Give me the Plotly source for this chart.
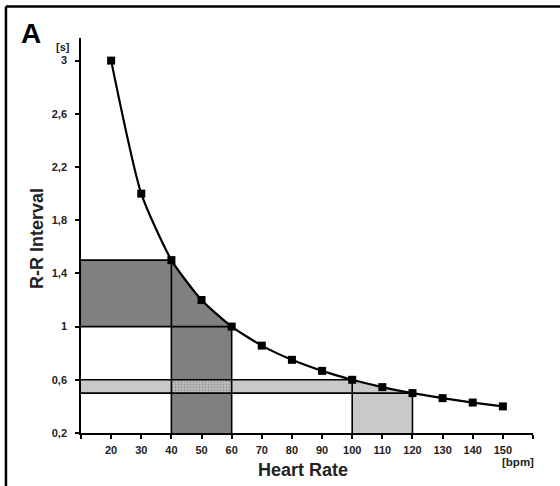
import plotly.graph_objects as go

# ---- data ----
heart_rate = [20, 30, 40, 50, 60, 70, 80, 90, 100, 110, 120, 130, 140, 150]
rr_interval = [3.0, 2.0, 1.5, 1.2, 1.0, 0.857, 0.75, 0.667, 0.6, 0.545, 0.5, 0.462, 0.429, 0.4]

x_ticks = [10, 20, 30, 40, 50, 60, 70, 80, 90, 100, 110, 120, 130, 140, 150, 160]
x_tick_labels = ["", "20", "30", "40", "50", "60", "70", "80", "90", "100", "110", "120", "130", "140", "150", ""]
y_ticks = [0.2, 0.6, 1.0, 1.4, 1.8, 2.2, 2.6, 3.0]
y_tick_labels = ["0,2", "0,6", "1", "1,4", "1,8", "2,2", "2,6", "3"]

x_min, x_max = 10, 160
y_min, y_max = 0.2, 3.17

brady_hr = [40, 60]      # heart-rate window (dark)
brady_rr = [1.0, 1.5]    # R-R window (dark)
tachy_hr = [100, 120]    # heart-rate window (light)
tachy_rr = [0.5, 0.6]    # R-R window (light)

DARK = "#808080"
LIGHT = "#c9c9c9"


def curve_segment(x0, x1):
    xs = [x for x in heart_rate if x0 <= x <= x1]
    ys = [rr_interval[heart_rate.index(x)] for x in xs]
    return xs, ys


fig = go.Figure()

# dark region: horizontal band + area under curve between 40 and 60
cx, cy = curve_segment(brady_hr[0], brady_hr[1])
dx = [x_min] + cx + [brady_hr[1], brady_hr[0], brady_hr[0], x_min]
dy = [brady_rr[1]] + cy + [y_min, y_min, brady_rr[0], brady_rr[0]]
fig.add_trace(go.Scatter(x=dx, y=dy, fill="toself", fillcolor=DARK, mode="none",
                         hoverinfo="skip", showlegend=False))

# light horizontal band
cx2, cy2 = curve_segment(tachy_hr[0], tachy_hr[1])
lx = [x_min] + cx2 + [x_min]
ly = [tachy_rr[1]] + cy2 + [tachy_rr[0]]
fig.add_trace(go.Scatter(x=lx, y=ly, fill="toself", fillcolor=LIGHT, mode="none",
                         hoverinfo="skip", showlegend=False))
# light vertical area under curve
vx = [tachy_hr[0]] + cx2 + [tachy_hr[1], tachy_hr[0]]
vy = [y_min] + cy2 + [y_min, y_min]
fig.add_trace(go.Scatter(x=vx, y=vy, fill="toself", fillcolor=LIGHT, mode="none",
                         hoverinfo="skip", showlegend=False))

# hatched overlap
hx = [brady_hr[0], brady_hr[1], brady_hr[1], brady_hr[0], brady_hr[0]]
hy = [tachy_rr[0], tachy_rr[0], tachy_rr[1], tachy_rr[1], tachy_rr[0]]
fig.add_trace(go.Scatter(x=hx, y=hy, fill="toself", fillcolor="#a8a8a8", mode="none",
                         fillpattern=dict(shape=".", fgcolor="#6e6e6e", bgcolor="#c4c4c4",
                                          size=3, solidity=0.45),
                         hoverinfo="skip", showlegend=False))

# reference lines
line_style = dict(color="black", width=1.6)
for hr, rr in [(brady_hr[0], brady_rr[1]), (brady_hr[1], brady_rr[0]),
               (tachy_hr[0], tachy_rr[1]), (tachy_hr[1], tachy_rr[0])]:
    fig.add_trace(go.Scatter(x=[x_min, hr, hr], y=[rr, rr, y_min], mode="lines",
                             line=line_style, hoverinfo="skip", showlegend=False))

# main curve
fig.add_trace(go.Scatter(x=heart_rate, y=rr_interval, mode="lines+markers",
                         line=dict(color="black", width=2.2, shape="spline", smoothing=0.6),
                         marker=dict(symbol="square", size=8, color="black"),
                         showlegend=False))

PL, PR, PT, PB = 81, 532.7, 37.5, 433.5
W, H = PR - PL, PB - PT


def px(x):
    return (x - PL) / W


def py(y):
    return (PB - y) / H


tick_font = dict(family="Liberation Sans, Arial, sans-serif", size=11, color="#222222")

fig.update_layout(
    width=560, height=486,
    margin=dict(l=PL, r=560 - PR, t=PT, b=486 - PB, pad=0),
    paper_bgcolor="white", plot_bgcolor="white",
    hovermode=False,
    xaxis=dict(range=[x_min, x_max], tickvals=x_ticks,
               ticktext=["<b>%s</b>" % t if t else "" for t in x_tick_labels],
               showline=True, linecolor="black", linewidth=1.6, ticks="outside",
               ticklen=4, tickwidth=1.6, tickcolor="black", showgrid=False, zeroline=False,
               tickfont=tick_font, ticklabelstandoff=2),
    yaxis=dict(range=[y_min, y_max], tickvals=y_ticks,
               ticktext=["<b>%s</b>" % t for t in y_tick_labels],
               showline=True, linecolor="black", linewidth=1.6, ticks="outside",
               ticklen=4, tickwidth=1.6, tickcolor="black", showgrid=False, zeroline=False,
               tickfont=tick_font, ticklabelstandoff=6),
    font=dict(family="Liberation Sans, Arial, sans-serif", color="black"),
)

annotations = [
    dict(text="<b>A</b>", x=px(31), y=py(33), font=dict(size=28, color="black")),
    dict(text="<b>[s]</b>", x=px(63), y=py(47), font=dict(size=11, color="#222222")),
    dict(text="<b>[bpm]</b>", x=px(518), y=py(463), font=dict(size=11.5, color="#222222")),
    dict(text="<b>Heart Rate</b>", x=px(303), y=py(471), font=dict(size=18, color="#222222")),
    dict(text="<b>R-R Interval</b>", x=px(37), y=py(238), textangle=-90,
         font=dict(size=18, color="#222222")),
]
for a in annotations:
    fig.add_annotation(xref="paper", yref="paper", showarrow=False,
                       xanchor="center", yanchor="middle", **a)

# figure frame (top and left edges)
fig.add_shape(type="line", xref="paper", yref="paper", x0=px(6), x1=px(562),
              y0=py(6), y1=py(6), line=dict(color="black", width=2.5))
fig.add_shape(type="line", xref="paper", yref="paper", x0=px(6), x1=px(6),
              y0=py(6), y1=py(490), line=dict(color="black", width=2.5))

fig.write_html("out.html", config={"displayModeBar": False},
               post_script="document.body.style.margin='0';")
